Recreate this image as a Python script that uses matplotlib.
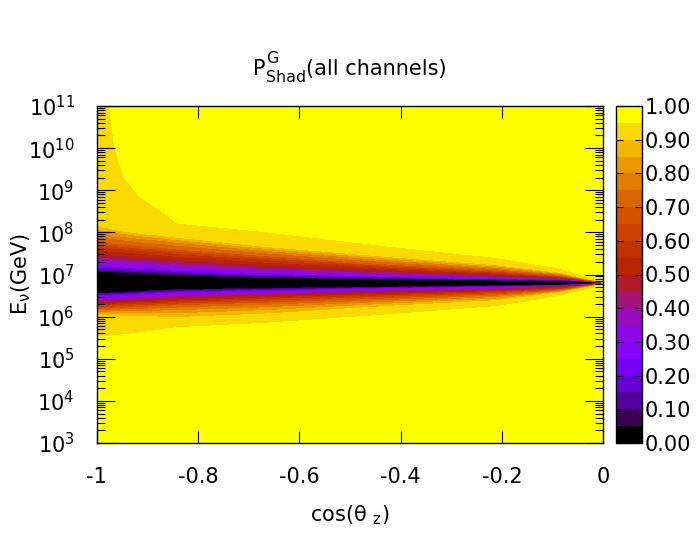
import numpy as np
import matplotlib
matplotlib.use("Agg")
import matplotlib.pyplot as plt
from matplotlib.colors import ListedColormap, BoundaryNorm
from matplotlib.ticker import LogLocator, NullFormatter, FuncFormatter

plt.rcParams['font.family'] = ['DejaVu Sans']
plt.rcParams['axes.unicode_minus'] = False

# cos(theta_z) columns where the contour crossings were read
cos_cols = [-1.0, -0.975, -0.965, -0.947, -0.915, -0.875, -0.84, -0.67, -0.43, -0.21, -0.085, -0.02, 0.0]

# log10(E/GeV) where P_shad crosses a value, one list per crossing (lower side / upper side)
lo95 = [5.53, 5.54, 5.55, 5.57, 5.62, 5.68, 5.74, 5.84, 6.04, 6.24, 6.48, 6.68, 6.77]
lo90 = [6.02, 6.02, 6.02, 6.01, 6.00, 5.99, 5.98, 6.06, 6.24, 6.38, 6.57, 6.72, 6.775]
lo70 = [6.18, 6.18, 6.19, 6.20, 6.22, 6.24, 6.26, 6.32, 6.42, 6.52, 6.62, 6.74, 6.78]
lo50 = [6.32, 6.32, 6.33, 6.34, 6.36, 6.38, 6.40, 6.48, 6.56, 6.62, 6.69, 6.76, 6.785]
lo30 = [6.45, 6.45, 6.46, 6.47, 6.49, 6.52, 6.55, 6.58, 6.65, 6.69, 6.72, 6.77, 6.79]
lo05 = [6.56, 6.56, 6.57, 6.58, 6.60, 6.62, 6.64, 6.67, 6.70, 6.73, 6.75, 6.78, 6.795]
mid = [6.80, 6.80, 6.80, 6.80, 6.80, 6.80, 6.80, 6.80, 6.80, 6.80, 6.80, 6.80, 6.80]
up05 = [7.07, 7.06, 7.06, 7.05, 7.03, 7.01, 6.99, 6.93, 6.90, 6.87, 6.86, 6.82, 6.802]
up30 = [7.22, 7.21, 7.20, 7.19, 7.17, 7.15, 7.12, 7.04, 6.96, 6.92, 6.89, 6.83, 6.805]
up50 = [7.48, 7.47, 7.46, 7.45, 7.42, 7.39, 7.35, 7.23, 7.10, 7.00, 6.92, 6.84, 6.81]
up70 = [7.78, 7.75, 7.74, 7.72, 7.68, 7.65, 7.60, 7.45, 7.25, 7.10, 6.98, 6.85, 6.812]
up90 = [8.15, 8.10, 8.07, 8.03, 7.98, 7.93, 7.88, 7.67, 7.43, 7.23, 7.05, 6.87, 6.815]
up95 = [11.6, 11.0, 10.04, 9.33, 8.85, 8.53, 8.22, 8.02, 7.68, 7.40, 7.15, 6.90, 6.82]
bottom = [3.0] * len(cos_cols)
top = [12.0] * len(cos_cols)

# P_shad value on each of the rows above (bottom -> top)
p_rows = [1.0, 0.95, 0.90, 0.70, 0.50, 0.30, 0.05, 0.0, 0.05, 0.30, 0.50, 0.70, 0.90, 0.95, 1.0]

rows = [bottom, lo95, lo90, lo70, lo50, lo30, lo05, mid, up05, up30, up50, up70, up90, up95, top]
logE = np.array(rows)
X = np.tile(np.array(cos_cols), (len(rows), 1))
Y = 10.0 ** logE
Z = np.tile(np.array(p_rows)[:, None], (1, len(cos_cols)))

# gnuplot default palette (rgbformulae 7,5,15), 20 colours
xc = np.arange(20) / 19.0
colors = np.column_stack([np.sqrt(xc), xc ** 3, np.clip(np.sin(2 * np.pi * xc), 0, 1)])
cmap = ListedColormap(colors)
levels = np.linspace(0, 1, 21)
norm = BoundaryNorm(levels, cmap.N)

FS = 15

fig = plt.figure(figsize=(7, 5.5), dpi=100)
ax = fig.add_axes([96.7 / 700, 1 - 443 / 550, 506.6 / 700, 337 / 550])

cf = ax.contourf(X, Y, Z, levels=levels, cmap=cmap, norm=norm, antialiased=False)

ax.set_yscale('log')
ax.set_xlim(-1, 0)
ax.set_ylim(1e3, 1e11)
ax.set_xticks([-1, -0.8, -0.6, -0.4, -0.2, 0])
ax.xaxis.set_major_formatter(FuncFormatter(lambda v, p: '%g' % round(v, 3)))
ax.yaxis.set_major_locator(LogLocator(base=10, numticks=20))
ax.yaxis.set_minor_locator(LogLocator(base=10, subs=np.arange(2, 10), numticks=100))
ax.yaxis.set_minor_formatter(NullFormatter())

ax.tick_params(axis='x', which='major', direction='in', length=8.6, width=0.8,
               top=True, bottom=True, pad=17, labelsize=FS)
ax.tick_params(axis='y', which='major', direction='in', length=13, width=0.8,
               left=True, right=True, pad=16, labelsize=FS)
ax.tick_params(axis='y', which='minor', direction='in', length=6, width=0.8,
               left=True, right=True)
for s in ax.spines.values():
    s.set_linewidth(1.0)

ax.set_xlabel('cos(θ $_\\mathregular{z}$)', fontsize=FS)
ax.xaxis.set_label_coords(0.5, (443 - 503) / 337)
ax.set_ylabel('E$_\\mathregular{ν}$(GeV)', fontsize=FS)
ax.yaxis.set_label_coords((33 - 96.7) / 506.6, 0.5)

# title in gnuplot enhanced-text style: P^G_Shad(all channels)
r = fig.canvas.get_renderer()
yb = 1 - 75 / 550
sub_fs = FS * 0.76
t_p = fig.text(0, yb, 'P', fontsize=FS, va='baseline')
w_p = t_p.get_window_extent(r).width
t_g = fig.text(w_p / 700, yb + 12 / 550, 'G', fontsize=sub_fs, va='baseline')
t_s = fig.text(w_p / 700, yb - 7 / 550, 'Shad', fontsize=sub_fs, va='baseline')
w_s = max(t_g.get_window_extent(r).width, t_s.get_window_extent(r).width)
t_r = fig.text((w_p + w_s) / 700, yb, '(all channels)', fontsize=FS, va='baseline')
total = w_p + w_s + t_r.get_window_extent(r).width
x0 = 350 - total / 2
t_p.set_x(x0 / 700)
t_g.set_x((x0 + w_p) / 700)
t_s.set_x((x0 + w_p) / 700)
t_r.set_x((x0 + w_p + w_s) / 700)

cax = fig.add_axes([616 / 700, 1 - 443 / 550, 26 / 700, 337 / 550])
cb = fig.colorbar(cf, cax=cax, ticks=np.arange(0, 1.01, 0.1), format='%.2f')
cb.ax.tick_params(direction='in', length=5, width=0.8, left=True, right=True,
                  labelsize=FS, pad=2)
cb.outline.set_linewidth(1.0)
cb.ax.minorticks_off()

fig.savefig('out.png', dpi=100)
